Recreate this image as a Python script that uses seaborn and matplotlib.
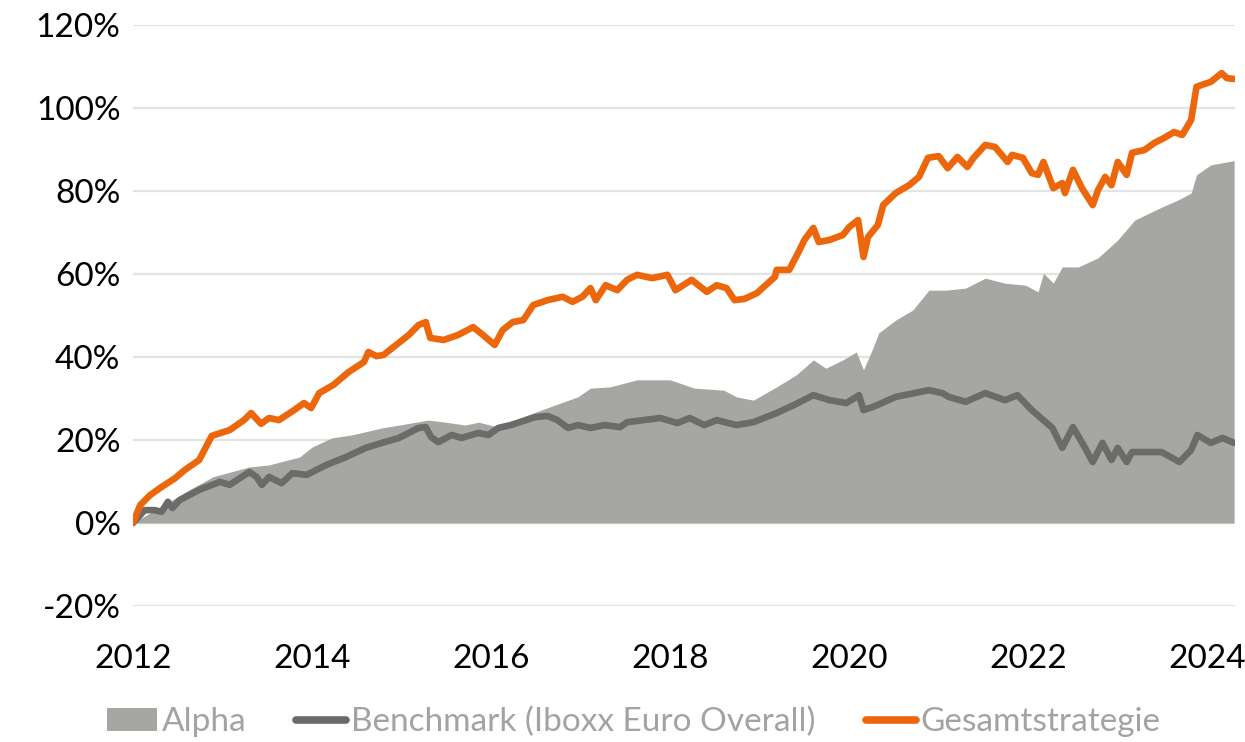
import numpy as np
import pandas as pd
import matplotlib
matplotlib.use("Agg")
import matplotlib.pyplot as plt
import seaborn as sns
from matplotlib.patches import Patch
from matplotlib.lines import Line2D

# Gesamtstrategie (orange line), cumulative return in %
gesamt_years = [2012.00, 2012.08, 2012.19, 2012.30, 2012.47, 2012.58, 2012.74, 2012.88,
                2013.08, 2013.24, 2013.32, 2013.43, 2013.52, 2013.63, 2013.80, 2013.91,
                2013.99, 2014.08, 2014.24, 2014.41, 2014.58, 2014.63, 2014.72, 2014.80,
                2014.91, 2015.08, 2015.19, 2015.27, 2015.32, 2015.47, 2015.63, 2015.80,
                2015.91, 2016.04, 2016.13, 2016.24, 2016.36, 2016.47, 2016.63, 2016.80,
                2016.91, 2017.02, 2017.11, 2017.17, 2017.28, 2017.41, 2017.52, 2017.63,
                2017.80, 2017.97, 2018.06, 2018.24, 2018.41, 2018.52, 2018.63, 2018.72,
                2018.83, 2018.97, 2019.17, 2019.19, 2019.33, 2019.43, 2019.50, 2019.60,
                2019.66, 2019.78, 2019.93, 2020.00, 2020.10, 2020.16, 2020.21, 2020.32,
                2020.38, 2020.52, 2020.67, 2020.78, 2020.88, 2021.00, 2021.10, 2021.21,
                2021.32, 2021.39, 2021.52, 2021.63, 2021.77, 2021.82, 2021.94, 2022.04,
                2022.11, 2022.17, 2022.28, 2022.38, 2022.41, 2022.50, 2022.60, 2022.72,
                2022.78, 2022.86, 2022.93, 2023.00, 2023.10, 2023.16, 2023.30, 2023.41,
                2023.52, 2023.63, 2023.72, 2023.82, 2023.88, 2023.93, 2024.04, 2024.16,
                2024.22, 2024.30]
gesamt_values = [0.0, 4.3, 6.7, 8.4, 10.8, 12.8, 15.2, 21.0,
                 22.4, 24.8, 26.5, 23.9, 25.3, 24.8, 27.2, 28.9,
                 27.7, 31.3, 33.3, 36.4, 38.8, 41.2, 40.2, 40.5,
                 42.4, 45.3, 47.7, 48.4, 44.6, 44.1, 45.3, 47.2,
                 45.3, 42.9, 46.5, 48.4, 48.9, 52.5, 53.7, 54.5,
                 53.3, 54.5, 56.6, 53.7, 57.3, 56.1, 58.6, 59.8,
                 59.0, 59.8, 56.1, 58.6, 55.7, 57.3, 56.6, 53.7,
                 54.0, 55.4, 59.3, 61.0, 61.0, 65.1, 68.2, 71.1,
                 67.7, 68.2, 69.4, 71.3, 73.0, 64.1, 68.9, 71.8,
                 76.6, 79.5, 81.4, 83.4, 88.0, 88.4, 85.5, 88.2,
                 85.8, 88.0, 91.1, 90.6, 87.0, 88.7, 88.0, 84.3,
                 83.9, 87.0, 80.7, 81.9, 79.5, 85.1, 80.7, 76.6,
                 80.2, 83.4, 81.4, 87.0, 83.9, 89.2, 89.9, 91.6,
                 92.8, 94.2, 93.5, 97.1, 105.1, 105.5, 106.3, 108.4,
                 107.2, 107.0]

# Benchmark (Iboxx Euro Overall), cumulative return in %
bench_years = [2012.00, 2012.13, 2012.24, 2012.32, 2012.39, 2012.44, 2012.52, 2012.74,
               2012.97, 2013.08, 2013.30, 2013.38, 2013.44, 2013.52, 2013.66, 2013.78,
               2013.94, 2014.16, 2014.38, 2014.60, 2014.78, 2014.97, 2015.19, 2015.27,
               2015.33, 2015.41, 2015.56, 2015.67, 2015.86, 2015.97, 2016.08, 2016.22,
               2016.49, 2016.63, 2016.74, 2016.86, 2016.97, 2017.11, 2017.27, 2017.44,
               2017.52, 2017.89, 2018.08, 2018.22, 2018.38, 2018.52, 2018.74, 2018.93,
               2019.19, 2019.38, 2019.60, 2019.78, 2019.97, 2020.11, 2020.16, 2020.27,
               2020.52, 2020.89, 2021.04, 2021.11, 2021.30, 2021.52, 2021.74, 2021.88,
               2022.04, 2022.27, 2022.38, 2022.50, 2022.63, 2022.72, 2022.83, 2022.93,
               2023.00, 2023.10, 2023.16, 2023.49, 2023.69, 2023.82, 2023.89, 2024.04,
               2024.17, 2024.30]
bench_values = [0.0, 3.1, 3.1, 2.7, 5.1, 3.6, 5.5, 8.0,
                9.9, 9.2, 12.3, 11.1, 9.2, 11.1, 9.6, 12.0,
                11.6, 14.0, 15.9, 18.1, 19.3, 20.5, 22.9, 23.1,
                20.7, 19.5, 21.2, 20.5, 21.7, 21.2, 22.9, 23.6,
                25.5, 25.8, 24.8, 22.9, 23.6, 22.9, 23.6, 23.1,
                24.3, 25.3, 24.1, 25.3, 23.6, 24.8, 23.6, 24.3,
                26.5, 28.4, 30.8, 29.6, 28.9, 30.8, 27.2, 28.0,
                30.4, 32.0, 31.3, 30.4, 29.2, 31.3, 29.6, 30.8,
                27.2, 22.9, 18.1, 23.1, 18.3, 14.7, 19.3, 15.2,
                18.1, 14.7, 17.1, 17.1, 14.7, 17.6, 21.2, 19.3,
                20.5, 19.3]

# Alpha (grey area), in %
alpha_years = [2012.00, 2012.11, 2012.38, 2012.63, 2012.89, 2012.97, 2013.30, 2013.52,
               2013.86, 2014.00, 2014.22, 2014.44, 2014.78, 2015.11, 2015.30, 2015.49,
               2015.71, 2015.86, 2016.08, 2016.41, 2016.71, 2016.97, 2017.11, 2017.33,
               2017.63, 2018.00, 2018.27, 2018.60, 2018.74, 2018.93, 2019.19, 2019.41,
               2019.60, 2019.74, 2019.93, 2020.08, 2020.16, 2020.27, 2020.33, 2020.52,
               2020.71, 2020.89, 2021.08, 2021.30, 2021.52, 2021.74, 2021.97, 2022.11,
               2022.17, 2022.28, 2022.38, 2022.56, 2022.78, 2023.00, 2023.19, 2023.49,
               2023.67, 2023.82, 2023.88, 2024.04, 2024.22, 2024.30]
alpha_values = [0.0, 1.4, 4.8, 8.0, 11.1, 11.6, 13.5, 14.0,
                15.9, 18.3, 20.5, 21.2, 22.9, 24.1, 24.8, 24.3,
                23.6, 24.3, 23.1, 26.0, 28.4, 30.4, 32.5, 32.8,
                34.5, 34.5, 32.5, 32.0, 30.4, 29.6, 32.8, 35.7,
                39.3, 37.3, 39.3, 41.2, 36.9, 42.4, 45.8, 48.9,
                51.3, 56.1, 56.1, 56.6, 59.0, 57.8, 57.3, 55.7,
                60.2, 57.8, 61.7, 61.7, 63.9, 68.2, 73.0, 76.1,
                77.8, 79.5, 83.9, 86.3, 87.0, 87.3]

year_ticks = [2012, 2014, 2016, 2018, 2020, 2022, 2024]
pct_ticks = [-20, 0, 20, 40, 60, 80, 100, 120]

ORANGE = "#EC670C"
DARK = "#6B6B6A"
AREA = "#A6A6A2"

sns.set_style("white")
plt.rcParams["font.family"] = ["Lato", "DejaVu Sans"]

fig = plt.figure(figsize=(12.45, 7.42), dpi=100)
ax = fig.add_axes([133 / 1245, 1 - 606 / 742, 1102 / 1245, 581 / 742])

df_g = pd.DataFrame({"year": gesamt_years, "value": gesamt_values})
df_b = pd.DataFrame({"year": bench_years, "value": bench_values})
df_a = pd.DataFrame({"year": alpha_years, "value": alpha_values})

ax.fill_between(df_a["year"], 0, df_a["value"], color=AREA, linewidth=0, zorder=2)
sns.lineplot(data=df_b, x="year", y="value", ax=ax, color=DARK, linewidth=4.8,
             zorder=3, solid_capstyle="round", solid_joinstyle="round")
sns.lineplot(data=df_g, x="year", y="value", ax=ax, color=ORANGE, linewidth=4.8,
             zorder=4, solid_capstyle="round", solid_joinstyle="round")

ax.set_xlim(2012.0, 2024.31)
ax.set_ylim(-20, 120)
ax.set_yticks(pct_ticks)
ax.set_yticklabels([f"{t}%" for t in pct_ticks])
ax.set_xticks(year_ticks)
ax.set_xticklabels([str(t) for t in year_ticks])
ax.grid(axis="y", color="#E3E3E3", linewidth=1.6, zorder=0)
ax.grid(axis="x", visible=False)
ax.set_axisbelow(True)
for s in ax.spines.values():
    s.set_visible(False)
ax.tick_params(axis="y", length=0, pad=9, labelsize=24, labelcolor="black")
ax.tick_params(axis="x", length=0, pad=27, labelsize=24, labelcolor="black")
ax.set_xlabel("")
ax.set_ylabel("")

handles = [Patch(facecolor=AREA, edgecolor="none"),
           Line2D([0], [0], color=DARK, linewidth=5.5, solid_capstyle="round"),
           Line2D([0], [0], color=ORANGE, linewidth=5.5, solid_capstyle="round")]
labels = ["Alpha", "Benchmark (Iboxx Euro Overall)", "Gesamtstrategie"]
leg = fig.legend(handles, labels, loc="center", bbox_to_anchor=(0.509, 1 - 722 / 742),
                 ncol=3, frameon=False, fontsize=24, handlelength=1.5,
                 handletextpad=0.15, columnspacing=1.5, labelcolor="#A3A3A3")

fig.savefig("out.png", dpi=100)
